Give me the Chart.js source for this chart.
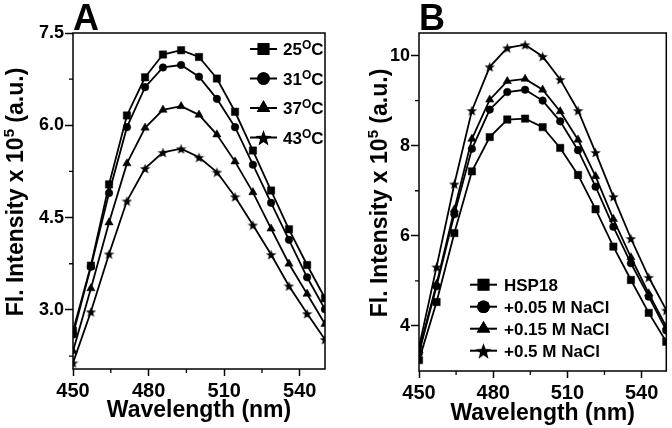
<!DOCTYPE html>
<html><head><meta charset="utf-8">
<script src="https://cdn.jsdelivr.net/npm/chart.js@4/dist/chart.umd.min.js"></script>
<style>
html,body{margin:0;padding:0;background:#fff;width:672px;height:428px;overflow:hidden}
canvas{position:absolute;top:0}
#ca{left:0}
#cb{left:336px}
</style></head><body>
<canvas id="ca" width="336" height="428"></canvas>
<canvas id="cb" width="336" height="428"></canvas>
<script>
// ---------- data ----------
const wavelengths = [450, 457.1, 464.3, 471.4, 478.6, 485.7, 492.9, 500, 507.1, 514.3, 521.4, 528.6, 535.7, 542.9, 550];

// Panel A: temperature series
const tempNames = ['25', '31', '37', '43'];
const temp25 = [2.66, 3.72, 5.04, 6.16, 6.78, 7.15, 7.22, 7.11, 6.76, 6.22, 5.59, 4.94, 4.31, 3.73, 3.19];
const temp31 = [2.60, 3.70, 4.90, 5.97, 6.62, 6.94, 6.98, 6.79, 6.43, 5.97, 5.36, 4.74, 4.14, 3.53, 3.01];
const temp37 = [2.33, 3.35, 4.42, 5.38, 5.96, 6.25, 6.31, 6.17, 5.85, 5.41, 4.91, 4.32, 3.75, 3.26, 2.77];
const temp43 = [2.14, 2.97, 3.91, 4.77, 5.30, 5.56, 5.62, 5.48, 5.24, 4.84, 4.38, 3.90, 3.39, 2.94, 2.52];

// Panel B: salt series
const saltNames = ['HSP18', '+0.05 M NaCl', '+0.15 M NaCl', '+0.5 M NaCl'];
const hsp18   = [3.24, 4.53, 6.06, 7.43, 8.19, 8.58, 8.60, 8.41, 7.95, 7.35, 6.59, 5.76, 5.02, 4.29, 3.65];
const nacl005 = [3.40, 4.88, 6.48, 7.93, 8.80, 9.19, 9.24, 9.00, 8.54, 7.90, 7.09, 6.20, 5.39, 4.65, 3.90];
const nacl015 = [3.46, 4.93, 6.58, 8.15, 9.02, 9.43, 9.48, 9.24, 8.76, 8.13, 7.32, 6.37, 5.52, 4.72, 3.98];
const nacl05  = [3.53, 5.31, 7.15, 8.78, 9.75, 10.17, 10.24, 9.98, 9.47, 8.78, 7.85, 6.87, 5.94, 5.08, 4.35];

// ticks
const xTicks = [450, 480, 510, 540];
const xMinorTicks = [465, 495, 525];
const yTicksA = [3.0, 4.5, 6.0, 7.5];
const yMinorA = [2.25, 3.75, 5.25, 6.75];
const yTicksB = [4, 6, 8, 10];
const yMinorB = [5, 7, 9];

// text
const panelLetters = ['A', 'B'];
const xTitle = 'Wavelength (nm)';
const yTitleParts = ['Fl. Intensity x 10', '5', ' (a.u.)'];
const tempUnitParts = ['O', 'C'];

// ---------- styling ----------
const FONT = '"Liberation Sans", Arial, sans-serif';

function makeStar(size) {
  const c = document.createElement('canvas');
  c.width = c.height = size;
  const g = c.getContext('2d');
  g.fillStyle = '#000';
  g.beginPath();
  const cx = size / 2, cy = size / 2 + size * 0.06, R = size / 2, r = R * 0.42;
  for (let i = 0; i < 10; i++) {
    const a = -Math.PI / 2 + i * Math.PI / 5;
    const rr = (i % 2) ? r : R;
    g.lineTo(cx + rr * Math.cos(a), cy + rr * Math.sin(a));
  }
  g.closePath();
  g.fill();
  return c;
}
const starSmall = makeStar(11);
const starBig = makeStar(17);

const markerStyles = [
  {pointStyle: 'rect', radius: 5.2},
  {pointStyle: 'circle', radius: 3.8},
  {pointStyle: 'triangle', radius: 4.8},
  {pointStyle: starSmall, radius: 5}
];
const legendMarkers = [
  {pointStyle: 'rect', radius: 8.3},
  {pointStyle: 'circle', radius: 6.3},
  {pointStyle: 'triangle', radius: 7.8},
  {pointStyle: starBig, radius: 8}
];

function buildDatasets(seriesList) {
  return seriesList.map((vals, i) => ({
    data: vals.map((v, j) => ({x: wavelengths[j], y: v})),
    borderColor: '#000',
    backgroundColor: '#000',
    borderWidth: 1.8,
    tension: 0,
    pointStyle: markerStyles[i].pointStyle,
    pointRadius: markerStyles[i].radius,
    pointBorderWidth: 0.5,
    pointBorderColor: '#000',
    pointBackgroundColor: '#000'
  }));
}

function drawRichText(ctx, parts, x, y, mainFont, supFont, supRise) {
  let cx = x;
  parts.forEach(p => {
    ctx.font = p.sup ? supFont : mainFont;
    ctx.fillText(p.t, cx, p.sup ? y - supRise : y);
    cx += ctx.measureText(p.t).width;
  });
  return cx - x;
}
function richWidth(ctx, parts, mainFont, supFont) {
  let w = 0;
  parts.forEach(p => { ctx.font = p.sup ? supFont : mainFont; w += ctx.measureText(p.t).width; });
  return w;
}

const decorPlugin = {
  id: 'decor',
  afterDraw(chart, args, opts) {
    const ctx = chart.ctx;
    const a = chart.chartArea;
    const xs = chart.scales.x, ys = chart.scales.y;
    ctx.save();
    ctx.strokeStyle = '#000';
    ctx.fillStyle = '#000';
    // frame
    ctx.lineWidth = 1.5;
    ctx.strokeRect(a.left, a.top, a.right - a.left, a.bottom - a.top);
    // minor ticks
    ctx.lineWidth = 1.3;
    ctx.beginPath();
    xMinorTicks.forEach(v => {
      const px = xs.getPixelForValue(v);
      ctx.moveTo(px, a.bottom); ctx.lineTo(px, a.bottom + 4);
    });
    opts.yMinor.forEach(v => {
      const py = ys.getPixelForValue(v);
      ctx.moveTo(a.left - 4, py); ctx.lineTo(a.left, py);
    });
    ctx.stroke();
    // panel letter
    ctx.textAlign = 'left';
    ctx.textBaseline = 'alphabetic';
    ctx.font = 'bold 36px ' + FONT;
    ctx.fillText(opts.letter, a.left, 30);
    // x title
    ctx.font = 'bold 23px ' + FONT;
    ctx.textAlign = 'center';
    ctx.fillText(xTitle, (a.left + a.right) / 2, opts.xTitleBase);
    // y title (rotated, with superscript)
    const mainF = 'bold 23px ' + FONT, supF = 'bold 15px ' + FONT;
    const yParts = [{t: yTitleParts[0]}, {t: yTitleParts[1], sup: true}, {t: yTitleParts[2]}];
    ctx.textAlign = 'left';
    const tw = richWidth(ctx, yParts, mainF, supF);
    ctx.save();
    ctx.translate(opts.yTitleX, opts.yTitleY);
    ctx.rotate(-Math.PI / 2);
    drawRichText(ctx, yParts, -tw / 2, 8, mainF, supF, 9);
    ctx.restore();
    // legend
    const L = opts.legend;
    opts.names.forEach((name, i) => {
      const y = L.y0 + i * L.dy;
      ctx.lineWidth = 2;
      ctx.beginPath();
      ctx.moveTo(L.x0, y); ctx.lineTo(L.x1, y);
      ctx.stroke();
      ctx.fillStyle = '#000';
      Chart.helpers.drawPoint(ctx, {pointStyle: legendMarkers[i].pointStyle, radius: legendMarkers[i].radius, rotation: 0, borderWidth: 0}, (L.x0 + L.x1) / 2, y);
      ctx.fill();
      ctx.textAlign = 'left';
      ctx.textBaseline = 'alphabetic';
      const parts = opts.withUnit
        ? [{t: name}, {t: tempUnitParts[0], sup: true}, {t: tempUnitParts[1]}]
        : [{t: name}];
      drawRichText(ctx, parts, L.tx, y + 6, 'bold 17px ' + FONT, 'bold 12px ' + FONT, 6);
    });
    ctx.restore();
  }
};

function makeChart(id, datasets, cfg) {
  return new Chart(document.getElementById(id), {
    type: 'line',
    data: {datasets},
    options: {
      responsive: false,
      animation: false,
      devicePixelRatio: 1,
      layout: {padding: {top: cfg.top, right: cfg.right, left: 0, bottom: 0}},
      plugins: {legend: {display: false}, tooltip: {enabled: false}, decor: cfg.decor},
      scales: {
        x: {
          type: 'linear', min: 450, max: 550,
          afterBuildTicks: s => { s.ticks = xTicks.map(v => ({value: v})); },
          afterFit: s => { s.height = cfg.xh; },
          grid: {drawOnChartArea: false, tickLength: 7, tickWidth: 1.5, tickColor: '#000'},
          border: {display: false},
          ticks: {color: '#000', font: {family: FONT, size: 20, weight: 'bold'}, padding: 3, maxRotation: 0, autoSkip: false}
        },
        y: {
          type: 'linear', min: cfg.ymin, max: cfg.ymax,
          afterBuildTicks: s => { s.ticks = cfg.yTicks.map(v => ({value: v})); },
          afterFit: s => { s.width = cfg.yw; },
          grid: {drawOnChartArea: false, tickLength: 8, tickWidth: 1.5, tickColor: '#000'},
          border: {display: false},
          ticks: {color: '#000', font: {family: FONT, size: 18, weight: 'bold'}, padding: 1, autoSkip: false, callback: cfg.fmt}
        }
      }
    },
    plugins: [decorPlugin]
  });
}

makeChart('ca', buildDatasets([temp25, temp31, temp37, temp43]), {
  top: 33, right: 11, xh: 59, yw: 73, ymin: 2.04, ymax: 7.5, yTicks: yTicksA,
  fmt: v => Number(v).toFixed(1),
  decor: {
    letter: panelLetters[0], yMinor: yMinorA, xTitleBase: 417, yTitleX: 15, yTitleY: 192,
    names: tempNames, withUnit: true,
    legend: {x0: 250, x1: 277, tx: 283, y0: 49, dy: 29.5}
  }
});

makeChart('cb', buildDatasets([hsp18, nacl005, nacl015, nacl05]), {
  top: 33, right: 2, xh: 57, yw: 83, ymin: 3.0, ymax: 10.5, yTicks: yTicksB,
  fmt: v => String(v),
  decor: {
    letter: panelLetters[1], yMinor: yMinorB, xTitleBase: 420, yTitleX: 43, yTitleY: 193,
    names: saltNames, withUnit: false,
    legend: {x0: 134, x1: 161, tx: 168, y0: 284.7, dy: 22}
  }
});
</script>
</body></html>
